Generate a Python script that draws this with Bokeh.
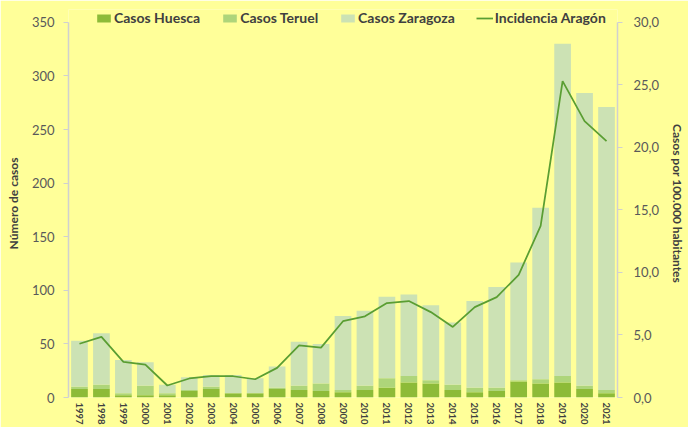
from bokeh.plotting import figure
from bokeh.models import ColumnDataSource, Range1d, LinearAxis, SingleIntervalTicker, CustomJSTickFormatter, FactorRange
from bokeh.embed import file_html
from bokeh.resources import INLINE

years = [str(y) for y in range(1997, 2022)]
huesca = [8, 8, 2, 2, 2, 6, 8, 4, 4, 8, 7, 6, 5, 7, 9, 14, 13, 7, 5, 6, 15, 13, 14, 8, 4]
teruel = [2, 4, 2, 9, 2, 1, 2, 0, 0, 1, 4, 7, 2, 4, 9, 6, 3, 5, 4, 3, 1, 4, 6, 3, 3]
zaragoza = [43, 48, 31, 22, 8, 12, 11, 17, 14, 20, 41, 37, 69, 70, 76, 76, 70, 58, 81, 94, 110, 160, 310, 273, 264]
incidencia = [4.3, 4.85, 2.85, 2.63, 0.96, 1.52, 1.70, 1.70, 1.46, 2.37, 4.17, 3.99, 6.1, 6.49, 7.55, 7.71,
              6.83, 5.64, 7.23, 8.03, 9.81, 13.72, 25.3, 22.1, 20.5]

series_labels = ["Casos Huesca", "Casos Teruel", "Casos Zaragoza"]
line_label = "Incidencia Aragón"

LEFT_MAX = 350
RIGHT_MAX = 30
HEADROOM = 12  # extra room above the axes so the legend is not clipped

BG = "#FFFF99"
FONT = "Lato"
TICK_C = "#595959"
TITLE_C = "#404040"
AXIS_C = "#D0D0D0"

source = ColumnDataSource(dict(year=years, huesca=huesca, teruel=teruel, zaragoza=zaragoza, inc=incidencia))

top_left = LEFT_MAX + HEADROOM
top_right = RIGHT_MAX * top_left / LEFT_MAX

p = figure(width=688, height=427, x_range=FactorRange(*years, range_padding=0), y_range=Range1d(0, top_left),
           output_backend="svg", toolbar_location=None,
           min_border_left=68, min_border_right=61, min_border_top=9, min_border_bottom=29)
p.background_fill_color = BG
p.border_fill_color = BG
p.outline_line_color = None
p.xgrid.grid_line_color = None
p.ygrid.grid_line_color = None

p.extra_y_ranges = {"inc": Range1d(0, top_right)}

p.vbar_stack(["huesca", "teruel", "zaragoza"], x="year", width=0.76, source=source,
             color=["#8DBB38", "#AED57A", "#CCE2B4"], line_color=None,
             legend_label=series_labels)
p.line(x="year", y="inc", source=source, y_range_name="inc", line_color="#5A9E32", line_width=1.75,
       legend_label=line_label)

ya = p.yaxis[0]
ya.ticker = SingleIntervalTicker(interval=50)
ya.axis_label = "Número de casos"
ya.bounds = (0, LEFT_MAX)

ra = LinearAxis(y_range_name="inc", ticker=SingleIntervalTicker(interval=5),
                formatter=CustomJSTickFormatter(code="return tick.toFixed(1).replace('.', ',');"),
                axis_label="Casos por 100.000 habitantes", bounds=(0, RIGHT_MAX))
p.add_layout(ra, "right")

for ax in [ya, ra]:
    ax.axis_line_color = AXIS_C
    ax.axis_line_width = 1.5
    ax.major_tick_line_color = AXIS_C
    ax.major_tick_out = 5
    ax.major_tick_in = 0
    ax.minor_tick_line_color = None
    ax.major_label_text_font = FONT
    ax.major_label_text_font_size = "13px"
    ax.major_label_text_color = TICK_C
    ax.axis_label_text_font = FONT
    ax.axis_label_text_font_size = "12px"
    ax.axis_label_text_font_style = "bold"
    ax.axis_label_text_color = TITLE_C
    ax.axis_label_standoff = 8
ya.major_label_standoff = 9
ra.major_label_standoff = 11

xa = p.xaxis[0]
xa.axis_line_color = None
xa.major_tick_line_color = None
xa.major_tick_out = 0
xa.major_tick_in = 0
xa.major_label_orientation = "vertical"
xa.major_label_text_font = FONT
xa.major_label_text_font_size = "9.5px"
xa.major_label_text_font_style = "bold"
xa.major_label_text_color = TITLE_C
xa.major_label_standoff = 5

lg = p.legend[0]
lg.orientation = "horizontal"
lg.location = (27, 371)
lg.background_fill_alpha = 0
lg.border_line_color = None
lg.label_text_font = FONT
lg.label_text_font_size = "14px"
lg.label_text_font_style = "bold"
lg.label_text_color = TITLE_C
lg.glyph_width = 17
lg.glyph_height = 10
lg.label_standoff = 2
lg.label_height = 14
lg.spacing = 21
lg.padding = 0
lg.margin = 0

open("out.html", "w").write(file_html(p, INLINE))
